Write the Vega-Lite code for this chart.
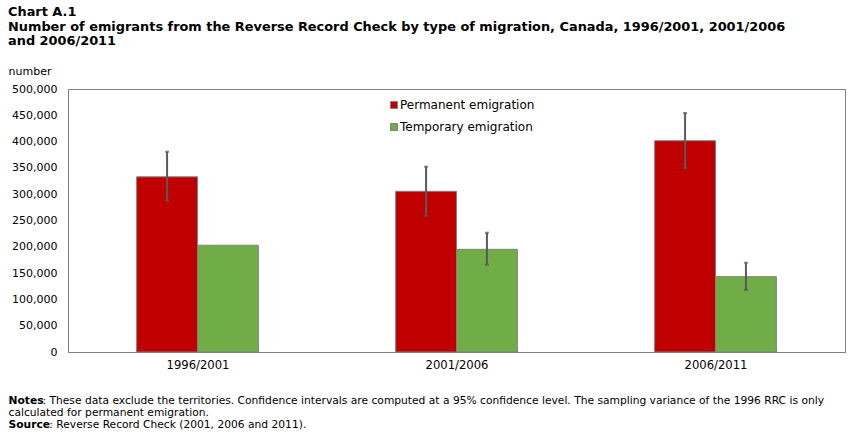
{
  "$schema": "https://vega.github.io/schema/vega-lite/v6.json",
  "width": 777,
  "height": 263,
  "autosize": {"type": "none"},
  "padding": {"left": 68, "top": 89, "right": 5, "bottom": 81},
  "background": "white",
  "title": {
    "text": "Chart A.1",
    "subtitle": [
      "Number of emigrants from the Reverse Record Check by type of migration, Canada, 1996/2001, 2001/2006",
      "and 2006/2011"
    ],
    "anchor": "start",
    "frame": "group",
    "dx": -60,
    "offset": 17,
    "font": "DejaVu Sans",
    "fontSize": 12.9,
    "fontWeight": "bold",
    "color": "black",
    "subtitleFont": "DejaVu Sans",
    "subtitleFontSize": 12.9,
    "subtitleFontWeight": "bold",
    "subtitleColor": "black",
    "subtitlePadding": 2,
    "subtitleLineHeight": 14
  },
  "config": {
    "view": {"stroke": "#808080", "strokeWidth": 1},
    "axis": {"labelFont": "DejaVu Sans", "labelFontSize": 11, "labelColor": "black", "titleColor": "black", "grid": false}
  },
  "data": {
    "values": [
      {"period": "1996/2001", "type": "Permanent emigration", "value": 333000, "lo": 287600, "hi": 380800},
      {"period": "1996/2001", "type": "Temporary emigration", "value": 203000, "lo": null, "hi": null},
      {"period": "2001/2006", "type": "Permanent emigration", "value": 305500, "lo": 259100, "hi": 352300},
      {"period": "2001/2006", "type": "Temporary emigration", "value": 195200, "lo": 166000, "hi": 226800},
      {"period": "2006/2011", "type": "Permanent emigration", "value": 401700, "lo": 349800, "hi": 454400},
      {"period": "2006/2011", "type": "Temporary emigration", "value": 143200, "lo": 117900, "hi": 169800}
    ]
  },
  "encoding": {
    "x": {
      "field": "period",
      "type": "nominal",
      "scale": {"paddingInner": 0.53, "paddingOuter": 0.265},
      "axis": {
        "labelAngle": 0,
        "labelFontSize": 11.6,
        "tickBand": "extent",
        "tickSize": -4,
        "tickColor": "#808080",
        "domainColor": "#808080",
        "labelPadding": 11,
        "title": [
          "\u200b\u2007\u2007\u2007\u2007\u2007: These data exclude the territories. Confidence intervals are computed at a 95% confidence level. The sampling variance of the 1996 RRC is only",
          "calculated for permanent emigration.",
          "\u200b\u2007\u2007\u2007\u2007\u2007\u2007: Reverse Record Check (2001, 2006 and 2011)."
        ],
        "titleFont": "DejaVu Sans",
        "titleFontSize": 10.7,
        "titleFontWeight": "normal",
        "titleAlign": "left",
        "titleBaseline": "alphabetic",
        "titleX": -60,
        "titleY": 51,
        "titleLineHeight": 12
      }
    },
    "xOffset": {"field": "type", "type": "nominal", "sort": ["Permanent emigration", "Temporary emigration"]}
  },
  "layer": [
    {
      "mark": {"type": "bar", "stroke": "#808080", "strokeWidth": 1},
      "encoding": {
        "y": {
          "field": "value",
          "type": "quantitative",
          "scale": {"domain": [0, 500000], "nice": false},
          "axis": {
            "tickCount": 10,
            "format": ",d",
            "ticks": false,
            "domain": false,
            "labelPadding": 11,
            "title": "number",
            "titleFont": "DejaVu Sans",
            "titleFontSize": 11,
            "titleFontWeight": "normal",
            "titleAngle": 0,
            "titleAlign": "left",
            "titleBaseline": "alphabetic",
            "titleX": -60,
            "titleY": -15
          }
        },
        "color": {
          "field": "type",
          "type": "nominal",
          "scale": {"domain": ["Permanent emigration", "Temporary emigration"], "range": ["#C00000", "#70AD47"]},
          "legend": {
            "title": null,
            "orient": "none",
            "legendX": 320,
            "legendY": 10,
            "symbolType": "square",
            "symbolSize": 49,
            "symbolStrokeColor": "#808080",
            "symbolStrokeWidth": 1,
            "labelFont": "DejaVu Sans",
            "labelFontSize": 12,
            "labelColor": "black",
            "labelOffset": 0,
            "rowPadding": 10
          }
        }
      }
    },
    {
      "transform": [{"filter": "isValid(datum.lo)"}],
      "layer": [
        {
          "mark": {"type": "rule", "color": "#595959", "strokeWidth": 2},
          "encoding": {
            "y": {
              "field": "lo",
              "type": "quantitative",
              "scale": {"domain": [0, 500000], "nice": false},
              "axis": {
                "orient": "right",
                "labels": false,
                "ticks": false,
                "domain": false,
                "title": ["Notes", "\u200b", "Source"],
                "titleFont": "DejaVu Sans",
                "titleFontSize": 10.7,
                "titleFontWeight": "bold",
                "titleColor": "black",
                "titleAngle": 0,
                "titleAlign": "left",
                "titleBaseline": "alphabetic",
                "titleX": -837,
                "titleY": 314,
                "titleLineHeight": 12
              }
            },
            "y2": {"field": "hi"}
          }
        },
        {
          "mark": {"type": "tick", "color": "#595959", "thickness": 2, "size": 4},
          "encoding": {"y": {"field": "lo", "type": "quantitative"}}
        },
        {
          "mark": {"type": "tick", "color": "#595959", "thickness": 2, "size": 4},
          "encoding": {"y": {"field": "hi", "type": "quantitative"}}
        }
      ]
    }
  ],
  "resolve": {"scale": {"y": "independent"}, "axis": {"y": "independent"}}
}
